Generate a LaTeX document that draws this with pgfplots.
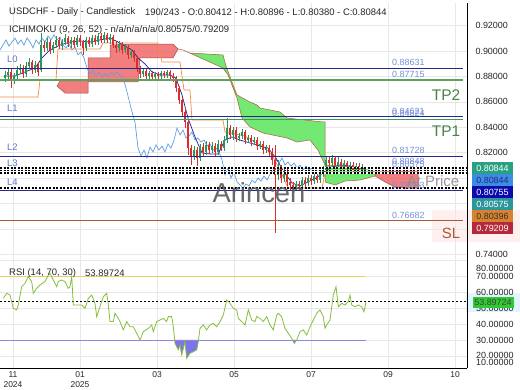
\documentclass[border=0pt]{standalone}
\usepackage{fontspec}
\setmainfont{Liberation Sans}
\usepackage{pgfplots}
\pgfplotsset{compat=1.18}
\usepackage{pgfplotstable}

\definecolor{cup}{RGB}{40,150,90}
\definecolor{cdn}{RGB}{220,45,45}
\definecolor{tenkan}{RGB}{30,30,160}
\definecolor{kijun}{RGB}{240,140,70}
\definecolor{chikou}{RGB}{95,160,225}
\definecolor{cloudg}{RGB}{115,232,115}
\definecolor{cloudr}{RGB}{240,105,105}
\definecolor{edgeb}{RGB}{175,95,60}
\definecolor{lvl}{RGB}{40,40,140}
\definecolor{tpg}{RGB}{90,165,90}
\definecolor{slc}{RGB}{170,90,50}
\definecolor{lbl}{RGB}{120,145,215}
\definecolor{llab}{RGB}{90,120,200}
\definecolor{rsil}{RGB}{135,190,60}
\definecolor{rseventy}{RGB}{230,210,100}
\definecolor{rthirty}{RGB}{150,130,230}
\definecolor{rfill}{RGB}{125,115,235}
\definecolor{bxa}{RGB}{40,160,130}
\definecolor{bxb}{RGB}{60,140,225}
\definecolor{bxc}{RGB}{10,10,175}
\definecolor{bxd}{RGB}{45,150,155}
\definecolor{bxe}{RGB}{215,130,45}
\definecolor{bxf}{RGB}{180,40,60}
\definecolor{rsibox}{RGB}{50,200,50}

\pgfplotstableread{
x o h l c
5 .8787 .8843 .8756 .8811
8 .8811 .8866 .8780 .8835
14 .8772 .8827 .8740 .8803
17 .8803 .8882 .8780 .8850
20 .8850 .8898 .8819 .8866
26 .8819 .8913 .8795 .8882
29 .8882 .8945 .8858 .8913
35 .8850 .8921 .8827 .8890
41 .8850 .9142 .8835 .9047
47 .9024 .9102 .9000 .9071
53 .9008 .9071 .8984 .9047
56 .9047 .9118 .9024 .9087
62 .9039 .9095 .9008 .9071
65 .9071 .9134 .9047 .9102
71 .9055 .9110 .9024 .9087
77 .9047 .9126 .9031 .9102
86 .9024 .9110 .9000 .9087
92 .9055 .9126 .9031 .9102
98 .9071 .9142 .9047 .9118
104 .9087 .9150 .9063 .9126
110 .9087 .9134 .9055 .9110
119 .9024 .9079 .8992 .9055
125 .9008 .9055 .8984 .9031
131 .8969 .9016 .8945 .8992
143 .8819 .8858 .8795 .8843
149 .8803 .8843 .8780 .8827
155 .8795 .8835 .8772 .8819
161 .8803 .8843 .8780 .8827
167 .8811 .8850 .8787 .8835
194 .8173 .8252 .8142 .8220
200 .8157 .8268 .8134 .8244
206 .8205 .8291 .8181 .8260
212 .8220 .8283 .8197 .8252
218 .8205 .8299 .8181 .8268
224 .8236 .8331 .8213 .8299
227 .8299 .8472 .8276 .8394
233 .8339 .8402 .8299 .8378
239 .8315 .8354 .8291 .8331
242 .8331 .8386 .8307 .8362
248 .8299 .8339 .8276 .8315
254 .8283 .8323 .8260 .8299
260 .8252 .8291 .8228 .8268
266 .8220 .8260 .8197 .8236
278 .8024 .8142 .7984 .8079
284 .8000 .8079 .7969 .8047
296 .7921 .7976 .7898 .7953
302 .7937 .8008 .7913 .7984
308 .7961 .8024 .7937 .8000
314 .7976 .8039 .7953 .8016
320 .7984 .8063 .7961 .8031
323 .8031 .8094 .8008 .8063
326 .8063 .8165 .8039 .8142
332 .8118 .8181 .8094 .8157
338 .8102 .8165 .8079 .8126
344 .8094 .8142 .8071 .8118
350 .8079 .8126 .8055 .8102
356 .8063 .8118 .8039 .8094
362 .8063 .8110 .8047 .8079
365 .80412 .80896 .80380 .80844
}\upc

\pgfplotstableread{
x o h l c
11 .8835 .8866 .8709 .8772
23 .8866 .8890 .8787 .8819
32 .8913 .8929 .8819 .8850
38 .8890 .8913 .8803 .8835
44 .9047 .9079 .8992 .9024
50 .9071 .9087 .8976 .9008
59 .9087 .9110 .9016 .9039
68 .9102 .9118 .9031 .9055
74 .9087 .9110 .9024 .9047
80 .9102 .9126 .9039 .9071
83 .9071 .9087 .8969 .9024
89 .9087 .9110 .9031 .9055
95 .9102 .9126 .9047 .9071
101 .9118 .9142 .9063 .9087
107 .9126 .9142 .9063 .9087
113 .9110 .9126 .9024 .9047
116 .9047 .9071 .8984 .9024
122 .9055 .9071 .8976 .9008
128 .9031 .9047 .8937 .8969
134 .8992 .9008 .8913 .8945
137 .8945 .8961 .8835 .8866
140 .8866 .8882 .8787 .8819
146 .8843 .8858 .8780 .8803
152 .8827 .8843 .8772 .8795
158 .8819 .8835 .8780 .8803
164 .8827 .8843 .8787 .8811
170 .8835 .8850 .8780 .8803
173 .8803 .8827 .8756 .8787
176 .8787 .8803 .8677 .8709
179 .8709 .8724 .8583 .8614
182 .8614 .8638 .8488 .8520
185 .8520 .8551 .8394 .8441
188 .8441 .8457 .8181 .8236
191 .8236 .8260 .8102 .8173
197 .8220 .8244 .8094 .8157
203 .8244 .8276 .8173 .8205
209 .8260 .8283 .8189 .8220
215 .8252 .8276 .8173 .8205
221 .8268 .8291 .8213 .8236
230 .8394 .8417 .8307 .8339
236 .8378 .8402 .8283 .8315
245 .8362 .8378 .8268 .8299
251 .8315 .8339 .8252 .8283
257 .8299 .8323 .8220 .8252
263 .8268 .8291 .8189 .8220
269 .8236 .8260 .8173 .8205
272 .8205 .8236 .8102 .8142
275 .8142 .8260 .7567 .8024
281 .8079 .8102 .7961 .8000
287 .8047 .8071 .7937 .7969
290 .7969 .8000 .7906 .7945
293 .7945 .7969 .7898 .7921
299 .7953 .7976 .7906 .7937
305 .7984 .8008 .7929 .7961
311 .8000 .8024 .7945 .7976
317 .8016 .8039 .7961 .7984
329 .8142 .8173 .8087 .8118
335 .8157 .8173 .8079 .8102
341 .8126 .8150 .8071 .8094
347 .8118 .8134 .8055 .8079
353 .8102 .8126 .8039 .8063
359 .8094 .8118 .8039 .8063
}\dnc

\newcommand{\ft}{\fontsize{9.5}{11}\selectfont}
\newcommand{\fs}{\fontsize{9}{10}\selectfont}

\begin{document}
\begin{tikzpicture}
\useasboundingbox (0bp,0bp) rectangle (520bp,390bp);
\fill[white] (0bp,0bp) rectangle (520bp,390bp);
\fill[pink!25] (432bp,148bp) rectangle (520bp,180bp);
\fill[cyan!12] (466bp,78bp) rectangle (520bp,97bp);

% ---------------- main price panel ----------------
\begin{axis}[
  at={(0bp,130bp)}, anchor=south west, scale only axis,
  width=467bp, height=257bp,
  xmin=0, xmax=467, ymin=0.735433, ymax=0.937795,
  axis x line*=bottom, axis y line*=right,
  axis line style={black, line width=0.8bp},
  xtick={13,80,157,234,311,388,455}, xticklabels={},
  ytick={0.74,0.76,0.78,0.80,0.82,0.84,0.86,0.88,0.90,0.92},
  yticklabels={0.74000,{},{},{},0.82000,0.84000,0.86000,0.88000,0.90000,0.92000},
  major tick length=0pt,
  grid=major, grid style={black!9, line width=0.5bp},
  yticklabel style={font=\fs, text=black!85, xshift=5bp},
]
% cloud
\addplot[fill=cloudr, fill opacity=0.85, draw=cloudr!70!black, line width=0.5bp] coordinates {
(57,.8724) (60,.8764) (88,.8764) (88,.8945) (110,.8945) (110,.9047) (137,.9055) (173,.9055) (178,.9016)
(173,.8945) (140,.8945) (138,.8756) (88,.8756) (88,.8669) (65,.8669) (57,.8724)} -- cycle;
\addplot[fill=cloudg, draw=edgeb, line width=0.5bp] coordinates {
(178,.9016) (183,.9008) (190,.8984) (223,.8969) (226,.8882) (232,.8756) (237,.8654) (250,.8598) (257,.8575)
(260,.8551) (280,.8520) (287,.8472) (323,.8441) (325,.8441) (325,.8102)
(318,.8220) (310,.8299) (297,.8283) (287,.8315) (263,.8354) (250,.8402) (242,.8472) (237,.8630)
(228,.8811) (223,.8866) (183,.9008)} -- cycle;
\addplot[fill=cloudg, draw=edgeb, line width=0.5bp] coordinates {
(325,.8102) (340,.8094) (360,.8079) (375,.8047) (375,.8016) (360,.7984) (345,.7976) (335,.7945) (325,.7969)} -- cycle;
\addplot[fill=cloudr, fill opacity=0.85, draw=cloudr!70!black, line width=0.5bp] coordinates {
(375,.8047) (418,.80575) (418,.79209) (405,.7921) (395,.7929) (385,.7969) (375,.8016)} -- cycle;

% chikou
\addplot[chikou, line width=0.7bp] coordinates {
(-3,.9071) (0,.9008) (3,.9047) (6,.9087) (9,.9039) (12,.9071) (15,.9102) (18,.9055) (21,.9087) (24,.9047)
(27,.9102) (30,.9071) (33,.9024) (36,.9087) (39,.9055) (42,.9102) (45,.9071) (48,.9118) (51,.9087) (54,.9126)
(57,.9087) (60,.9110) (63,.9047) (66,.9024) (69,.9055) (72,.9008) (75,.9031) (78,.8969) (81,.8992) (84,.8945)
(87,.8866) (90,.8819) (93,.8843) (96,.8803) (99,.8827) (102,.8795) (105,.8819) (108,.8803) (111,.8827) (114,.8811)
(117,.8835) (120,.8803) (123,.8787) (126,.8709) (129,.8614) (132,.8520) (135,.8441) (138,.8236) (141,.8173) (144,.8220)
(147,.8157) (150,.8244) (153,.8205) (156,.8260) (159,.8220) (162,.8252) (165,.8205) (168,.8268) (171,.8236) (174,.8299)
(177,.8394) (180,.8339) (183,.8378) (186,.8315) (189,.8331) (192,.8362) (195,.8299) (198,.8315) (201,.8283) (204,.8299)
(207,.8252) (210,.8268) (213,.8220) (216,.8236) (219,.8205) (222,.8142) (225,.8024) (228,.8079) (231,.8000) (234,.8047)
(237,.7969) (240,.7945) (243,.7921) (246,.7953) (249,.7937) (252,.7984) (255,.7961) (258,.8000) (261,.7976) (264,.8016)
(267,.7984) (270,.8031) (273,.8063) (276,.8142) (279,.8118) (282,.8157) (285,.8102) (288,.8126) (291,.8094) (294,.8118)
(297,.8079) (300,.8102) (303,.8063) (306,.8094) (309,.8063) (312,.8079) (315,.80844)};

% kijun
\addplot[kijun, line width=0.7bp] coordinates {
(0,.8638) (38,.8638) (40,.8772) (56,.8772) (58,.9016) (100,.9016) (103,.9063) (158,.9063) (162,.8913) (180,.8913)
(184,.8693) (190,.8693) (192,.8457) (223,.8457) (225,.8362) (245,.8331) (255,.8283) (265,.8236) (272,.8181)
(280,.8063) (288,.7921) (322,.7921) (325,.8039) (365,.80396)};

% tenkan
\addplot[tenkan, line width=0.7bp] coordinates {
(5,.8803) (15,.8803) (25,.8835) (35,.8866) (42,.8945) (50,.9008) (60,.9047) (70,.9071) (80,.9079) (90,.9071)
(100,.9087) (110,.9102) (118,.9071) (125,.9039) (132,.9008) (138,.8945) (145,.8898) (152,.8835) (160,.8811)
(170,.8811) (176,.8787) (182,.8654) (188,.8472) (195,.8323) (202,.8197) (210,.8189) (218,.8189) (225,.8299)
(232,.8323) (240,.8299) (250,.8276) (260,.8252) (268,.8236) (276,.8157) (284,.8047) (292,.7961) (300,.7937)
(308,.7969) (316,.8000) (324,.8047) (332,.8087) (340,.8102) (350,.8094) (358,.8079) (365,.80755)};

% candles: wicks
\addplot[draw=none, error bars/.cd, y dir=both, y explicit, error mark=none,
  error bar style={draw=cup, line width=0.6bp}]
  table[x=x, y=o, y error plus expr=\thisrow{h}-\thisrow{o}, y error minus expr=\thisrow{o}-\thisrow{l}] {\upc};
\addplot[draw=none, error bars/.cd, y dir=both, y explicit, error mark=none,
  error bar style={draw=cdn, line width=0.6bp}]
  table[x=x, y=c, y error plus expr=\thisrow{h}-\thisrow{c}, y error minus expr=\thisrow{c}-\thisrow{l}] {\dnc};
% candles: bodies
\addplot[draw=none, error bars/.cd, y dir=plus, y explicit, error mark=none,
  error bar style={draw=cup, line width=1.6bp}]
  table[x=x, y=o, y error plus expr=\thisrow{c}-\thisrow{o}] {\upc};
\addplot[draw=none, error bars/.cd, y dir=plus, y explicit, error mark=none,
  error bar style={draw=cdn, line width=1.6bp}]
  table[x=x, y=c, y error plus expr=\thisrow{o}-\thisrow{c}] {\dnc};

% level lines
\addplot[lvl, line width=1bp] coordinates {(0,0.88631) (463,0.88631)};
\addplot[tpg, line width=1.3bp] coordinates {(0,0.87715) (463,0.87715)};
\addplot[lvl, line width=1bp] coordinates {(0,0.84824) (463,0.84824)};
\addplot[tpg!70!teal, line width=1bp] coordinates {(0,0.84621) (463,0.84621)};
\addplot[lvl, line width=1bp] coordinates {(0,0.81728) (463,0.81728)};
\addplot[lvl, line width=1bp] coordinates {(0,0.80848) (463,0.80848)};
\addplot[lvl, line width=1bp] coordinates {(0,0.79053) (463,0.79053)};
\addplot[slc, line width=0.8bp] coordinates {(0,0.76682) (463,0.76682)};
% current value dashed lines
\addplot[white, line width=1.2bp] coordinates {(0,0.80844) (467,0.80844)};
\addplot[black, line width=1.2bp, dash pattern=on 2bp off 1.5bp] coordinates {(0,0.80844) (467,0.80844)};
\addplot[white, line width=1.2bp] coordinates {(0,0.80575) (467,0.80575)};
\addplot[black, line width=1.2bp, dash pattern=on 2bp off 1.5bp] coordinates {(0,0.80575) (467,0.80575)};
\addplot[white, line width=1.2bp] coordinates {(0,0.80396) (467,0.80396)};
\addplot[black, line width=1.2bp, dash pattern=on 2bp off 1.5bp] coordinates {(0,0.80396) (467,0.80396)};
\addplot[black, line width=1.2bp, dash pattern=on 2bp off 1.5bp] coordinates {(0,0.80755) (467,0.80755)};
\addplot[black, line width=1.2bp, dash pattern=on 2bp off 1.5bp] coordinates {(0,0.79209) (467,0.79209)};
\end{axis}

% ---------------- RSI panel ----------------
\begin{axis}[
  at={(0bp,22bp)}, anchor=south west, scale only axis,
  width=467bp, height=108bp,
  xmin=0, xmax=467, ymin=12.5, ymax=80,
  axis x line*=bottom, axis y line*=right,
  axis line style={black, line width=0.8bp},
  xtick={13,80,157,234,311,388,455},
  xticklabels={{11\\2024},{01\\2025},{03},{05},{07},{09},{10}},
  xticklabel style={align=center, font=\fontsize{8.5}{10}\selectfont, text=black!85},
  ytick={20,30,40,50,60,70,80}, yticklabels={},
  major tick length=0pt,
  grid=major, grid style={black!9, line width=0.5bp},
]
\addplot[fill=rfill, draw=none] coordinates {
(174.7,30) (175,27.9) (178.3,23.8) (180,26.9) (181.7,20.6) (185,29.0) (186.7,18.5) (190,21.7)
(193.3,22.7) (196.7,23.8) (198.3,29.0) (198.5,30)} -- cycle;
\addplot[fill=rfill, draw=none] coordinates {(292.5,30) (294.3,27.9) (296.7,30)} -- cycle;
\addplot[rseventy, line width=0.8bp] coordinates {(0,70) (366,70)};
\addplot[rthirty, line width=0.8bp] coordinates {(0,30) (366,30)};
\addplot[black, line width=0.7bp, dash pattern=on 2bp off 2bp] coordinates {(0,53.89724) (467,53.89724)};
\addplot[rsil, line width=0.8bp] coordinates {
(3.3,56.0) (6.7,59.2) (10,58.1) (13.3,49.8) (16.7,48.8) (18.3,51.9) (21.7,63.3) (25,65.4) (28.3,69.6) (31.7,66.5)
(33.3,59.2) (36.7,62.3) (40,64.4) (45,66.5) (48.3,70.6) (50,71.7) (53.3,67.5) (56.7,63.3) (58.3,66.5) (61.7,67.5)
(65,66.5) (68.3,62.3) (70,63.3) (71.7,69.6) (73.3,51.9) (78.3,51.9) (81.7,51.9) (85,49.8) (88.3,56.0) (91.7,58.1)
(95,52.9) (96.7,44.6) (100,50.8) (103.3,57.1) (106.7,59.2) (108.3,51.9) (110,41.5) (113.3,41.5) (115,46.7) (118.3,43.5)
(120,41.5) (123.3,36.3) (126.7,41.5) (130,38.3) (133.3,38.3) (136.7,34.2) (140,30.0) (143.3,35.2) (148.3,37.3) (151.7,39.4)
(153.3,35.2) (156.7,41.5) (160,42.5) (163.3,43.5) (166.7,41.5) (168.3,44.6) (171.7,44.6) (173.3,38.3) (175,27.9) (178.3,23.8)
(180,26.9) (181.7,20.6) (185,29.0) (186.7,18.5) (190,21.7) (193.3,22.7) (196.7,23.8) (198.3,29.0) (200,37.3) (203.3,39.4)
(206.7,36.3) (210,39.4) (213.3,40.4) (216.7,38.3) (220,41.5) (223.3,45.6) (226.7,55.0) (230,52.9) (233.3,49.8) (236.7,48.8)
(238.3,43.5) (241.7,41.5) (245,39.4) (248.3,48.8) (251.7,42.5) (255,41.5) (256.7,44.6) (260,43.5) (263.3,41.5) (266.7,44.6)
(270,39.4) (273.3,36.3) (276.7,45.6) (278.3,46.7) (281.7,44.6) (285,37.3) (288.3,34.2) (291.7,31.0) (294.3,27.9) (296.7,30.0)
(300,35.2) (303.3,36.3) (306.7,33.1) (310,38.3) (313.3,42.5) (316.7,46.7) (320,48.8) (323.3,44.6) (325,37.3) (326.7,39.4)
(330,42.5) (333.3,58.1) (336,63.3) (338.3,50.8) (341.7,52.9) (345,51.9) (348.3,54.0) (350,58.1) (351.7,51.9) (355,50.8)
(358.3,51.9) (361.7,50.8) (364,47.7) (366,53.9)};
\end{axis}

% ---------------- annotations ----------------
\begin{scope}[x=1bp, y=1bp]
\node[anchor=west, inner sep=0, font=\ft, text=black!85] at (9,378) {USDCHF - Daily - Candlestick};
\node[anchor=west, inner sep=0, font=\ft, text=black!85] at (145,378) {190/243 - O:0.80412 - H:0.80896 - L:0.80380 - C:0.80844};
\node[anchor=west, inner sep=0, font=\ft, text=black!85] at (9,360) {ICHIMOKU (9, 26, 52) - n/a/n/a/n/a/0.80575/0.79209};

\foreach \t/\yy in {L0/331, L1/282, L2/243, L3/227, L4/208}
  \node[anchor=west, inner sep=0, font=\ft, text=llab] at (7,\yy) {\t};

\foreach \t/\yy in {0.88631/328, 0.87715/316, 0.84621/278.5, 0.84824/277, 0.81728/239.5, 0.80575/225.5, 0.80848/228.5, 0.79053/205, 0.76682/175}
  \node[anchor=west, inner sep=0, font=\fs, text=lbl] at (392,\yy) {\t};

\node[font=\fontsize{15.5}{17}\selectfont, text=tpg!80!black] at (446,295) {TP2};
\node[font=\fontsize{15.5}{17}\selectfont, text=tpg!80!black] at (446,259) {TP1};
\node[font=\fontsize{15}{17}\selectfont, text=slc] at (451,157) {SL};
\node[font=\fontsize{15}{17}\selectfont, text=black!45, opacity=0.9] at (433,209) {At Price};
\node[font=\fontsize{27.5}{30}\selectfont, text=black!65, opacity=0.9] at (259,197) {Arincen};

\tikzset{bx/.style={minimum width=41bp, minimum height=11.6bp, inner sep=0, font=\fs}}
\node[bx, fill=bxa, text=white] at (492.5,222) {0.80844};
\node[bx, fill=bxb, text=lvl] at (492.5,210) {0.80844};
\node[bx, fill=bxc, text=white] at (492.5,198) {0.80755};
\node[bx, fill=bxd, text=white] at (492.5,186) {0.80575};
\node[bx, fill=bxe, text=black!80] at (492.5,174) {0.80396};
\node[bx, fill=bxf, text=white] at (492.5,162) {0.79209};

\node[anchor=west, inner sep=0, font=\ft, text=black!85] at (9,117) {RSI (14, 70, 30)};
\node[anchor=west, inner sep=0, font=\ft, text=black!85] at (85,117) {53.89724};

\foreach \t/\yy in {80.00000/122, 70.00000/114, 60.00000/98, 50.00000/82, 40.00000/66, 30.00000/50, 20.00000/35, 10.00000/28}
  \node[anchor=west, inner sep=0, font=\fs, text=black!85] at (476,\yy) {\t};
\node[bx, fill=rsibox, text=black!75] at (493,87.5) {53.89724};
\end{scope}
\end{tikzpicture}
\end{document}
